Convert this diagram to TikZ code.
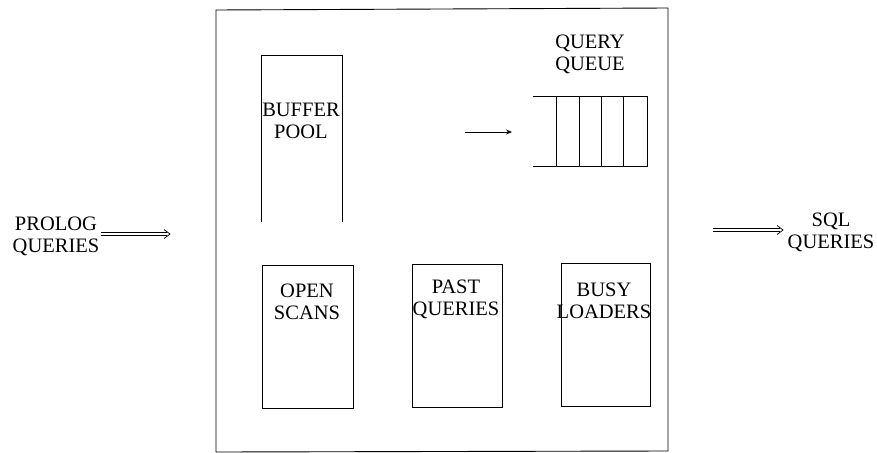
\documentclass[tikz,border=0pt]{standalone}
\usepackage{fontspec}
\setmainfont{Liberation Serif}
\usetikzlibrary{arrows.meta}
\begin{document}
\begin{tikzpicture}[x=1pt,y=-1pt,
  lbl/.style={font=\fontsize{20.5}{22}\selectfont, align=center, inner sep=0pt},
  boxline/.style={draw=black, line width=0.9pt},
  dline/.style={draw=black, line width=0.7pt},
  single/.style={line width=0.8pt, -{Stealth[length=6pt,width=5pt]}}]
\useasboundingbox (0,0) rectangle (877,452);
% main box
\draw[boxline] (216,452) -- (216,10) -- (668,8) -- (668,451) -- (216,452);
% buffer pool (open bottom)
\draw[boxline] (261,222) -- (261,55) -- (342,55) -- (342,222);
\node[lbl] (buf) at (301,121) {BUFFER\\POOL};
% query queue
\node[lbl] (qql) at (590,54) {QUERY\\QUEUE};
\draw[boxline] (533,96) -- (647,96) -- (647,166) -- (533,166);
\foreach \x in {556,579,601,623} \draw[boxline] (\x,96) -- (\x,166);
\coordinate (ain) at (465,132);
\coordinate (aout) at (512,132);
\draw[single] (ain) -- (aout);
% bottom boxes
\node[boxline, minimum width=91pt, minimum height=143pt, inner sep=0pt] (open) at (307.5,336.5) {};
\node[lbl] at (307,302) {OPEN\\SCANS};
\node[boxline, minimum width=90pt, minimum height=143pt, inner sep=0pt] (past) at (457,335.5) {};
\node[lbl] at (456,299) {PAST\\QUERIES};
\node[boxline, minimum width=89pt, minimum height=143pt, inner sep=0pt] (busy) at (605.5,334.5) {};
\node[lbl] at (604,301) {BUSY\\LOADERS};
% inputs / outputs
\node[lbl] (prolog) at (56,236) {PROLOG\\QUERIES};
\coordinate (pa) at (101,234);
\coordinate (pb) at (170,234);
\draw[dline] ([yshift=-1.3pt]pa) -- ([xshift=-3pt,yshift=-1.3pt]pb);
\draw[dline] ([yshift=1.3pt]pa) -- ([xshift=-3pt,yshift=1.3pt]pb);
\draw[dline] ([xshift=-6pt,yshift=-4.5pt]pb) -- (pb) -- ([xshift=-6pt,yshift=4.5pt]pb);
\node[lbl] (sql) at (831,232) {SQL\\QUERIES};
\coordinate (sa) at (713,230);
\coordinate (sb) at (783,230);
\draw[dline] ([yshift=-1.3pt]sa) -- ([xshift=-3pt,yshift=-1.3pt]sb);
\draw[dline] ([yshift=1.3pt]sa) -- ([xshift=-3pt,yshift=1.3pt]sb);
\draw[dline] ([xshift=-6pt,yshift=-4.5pt]sb) -- (sb) -- ([xshift=-6pt,yshift=4.5pt]sb);
\end{tikzpicture}
\end{document}
